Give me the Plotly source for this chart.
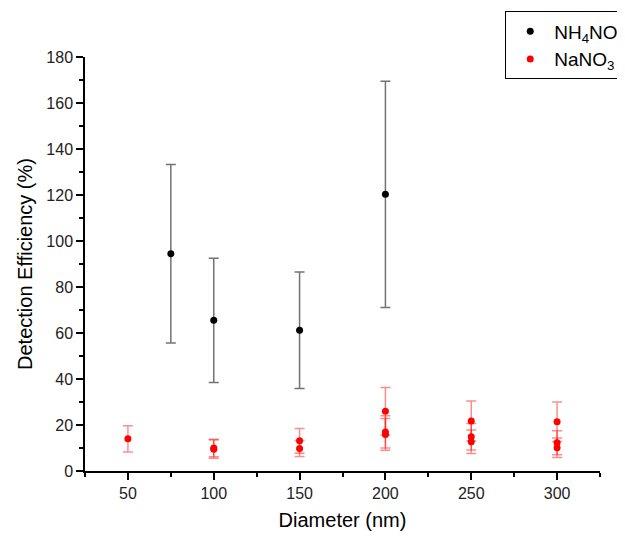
import plotly.graph_objects as go

# NH4NO3 series
nh4_x = [75, 100, 150, 200]
nh4_y = [94.5, 65.5, 61.2, 120.3]
nh4_err = [38.8, 27.0, 25.3, 49.2]

# NaNO3 series
na_x = [50, 100, 100, 150, 150, 200, 200, 200, 250, 250, 250, 300, 300, 300]
na_y = [14.0, 9.5, 10.0, 13.1, 9.8, 26.0, 17.0, 15.9, 21.7, 14.9, 12.7, 21.4, 12.3, 10.1]
na_err = [5.7, 4.0, 3.8, 5.4, 3.5, 10.3, 7.0, 6.9, 8.7, 5.8, 5.1, 8.6, 5.2, 4.2]

x_ticks = [50, 100, 150, 200, 250, 300]
y_ticks = [0, 20, 40, 60, 80, 100, 120, 140, 160, 180]

fig = go.Figure()
fig.add_trace(go.Scatter(
    x=nh4_x, y=nh4_y, mode="markers", name="NH<sub>4</sub>NO<sub>3</sub>",
    marker=dict(color="black", size=7),
    error_y=dict(type="data", array=nh4_err, visible=True,
                 color="rgba(90,90,90,0.85)", thickness=1.5, width=5),
))
fig.add_trace(go.Scatter(
    x=na_x, y=na_y, mode="markers", name="NaNO<sub>3</sub>",
    marker=dict(color="red", size=7),
    error_y=dict(type="data", array=na_err, visible=True,
                 color="rgba(255,0,0,0.45)", thickness=1.5, width=5),
))

axis_font = dict(family="Liberation Sans, Arial, sans-serif", size=16, color="#222")
fig.update_layout(
    width=625, height=538,
    margin=dict(l=77, r=33, t=49, b=75, autoexpand=False),
    paper_bgcolor="white", plot_bgcolor="white",
    font=dict(family="Liberation Sans, Arial, sans-serif", color="black"),
    showlegend=True,
    legend=dict(x=0.816, y=1.11, xanchor="left", yanchor="top",
                bordercolor="black", borderwidth=1, bgcolor="white",
                font=dict(size=19, color="black"), itemwidth=38,
                tracegroupgap=4),
)
fig.update_xaxes(
    range=[25, 325], tickvals=x_ticks, ticktext=[str(v) for v in x_ticks],
    showgrid=False, zeroline=False, showline=True, linecolor="black", linewidth=1.5,
    ticks="outside", ticklen=7, tickwidth=1.5, tickcolor="black",
    minor=dict(tickvals=[25, 75, 125, 175, 225, 275, 325], ticks="outside",
               ticklen=4, tickwidth=1.5, tickcolor="black"),
    tickfont=axis_font,
    title=dict(text="Diameter (nm)", font=dict(size=20, color="black"), standoff=12),
)
fig.update_yaxes(
    range=[0, 180], tickvals=y_ticks, ticktext=[str(v) for v in y_ticks],
    showgrid=False, zeroline=False, showline=True, linecolor="black", linewidth=1.5,
    ticks="outside", ticklen=7, tickwidth=1.5, tickcolor="black",
    minor=dict(tickvals=[10, 30, 50, 70, 90, 110, 130, 150, 170], ticks="outside",
               ticklen=4, tickwidth=1.5, tickcolor="black"),
    tickfont=axis_font,
    title=dict(text="Detection Efficiency (%)", font=dict(size=20, color="black"), standoff=8),
)

fig.write_html("out.html")
